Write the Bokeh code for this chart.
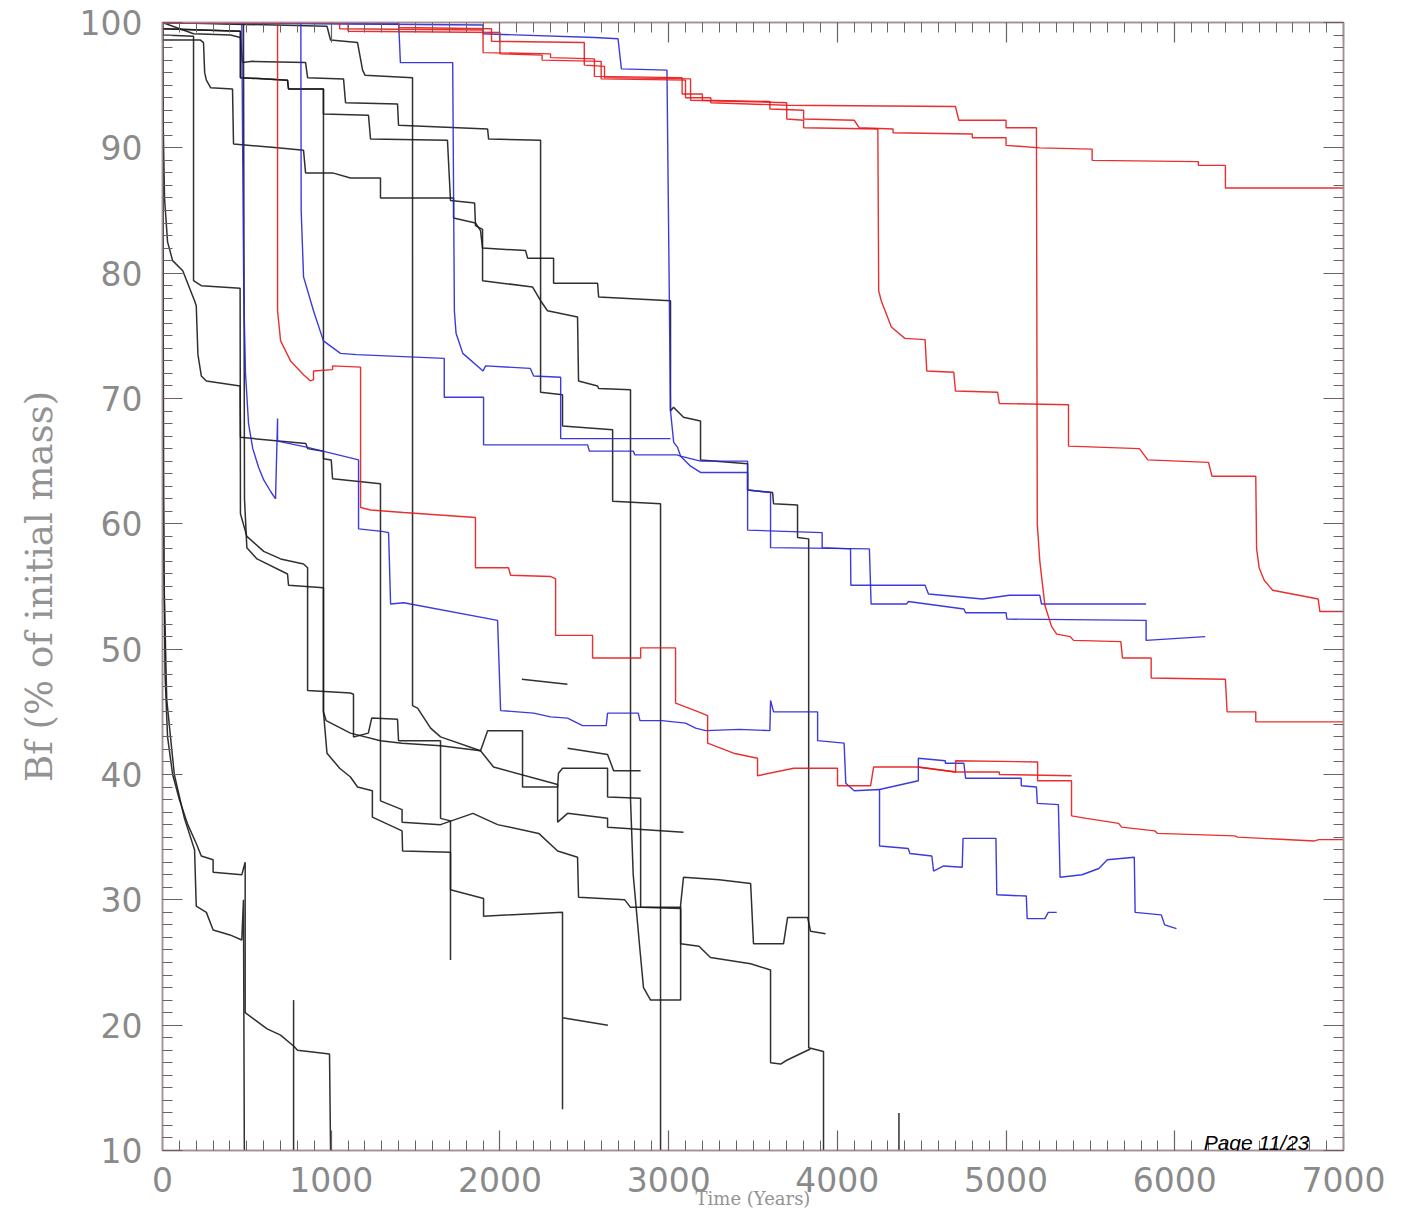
from bokeh.plotting import figure
from bokeh.models import FixedTicker, LinearAxis, Label, Range1d
from bokeh.embed import file_html
from bokeh.resources import INLINE

# ---------------- data (Time in years, Bf in % of initial mass) ----------------
x_ticks = [0, 1000, 2000, 3000, 4000, 5000, 6000, 7000]
y_ticks = [10, 20, 30, 40, 50, 60, 70, 80, 90, 100]

# black series
K1_x = [0,5,15,30,60,100,150,200,230,300,300,470,490,490,550,620,700,780,800,990,996]
K1_y = [100,62,48,43,40,38,36,34.5,33.5,33.2,32.2,32.0,33.0,21.0,20.4,19.7,19.2,18.3,18.0,17.7,10]
K2_x = [0,8,25,70,130,190,200,260,300,400,470,480,485]
K2_y = [100,56,46,40,36.5,34,29.5,29,27.6,27.2,26.8,30,10]
K3_x = [0,4,12,30,60,120,190,200,210,230,260,460,462,850,860,954,954,1000,1008,1292,1292,1420,1420,1648,1840,1986,2230,2342,2460,2466,2740,2774,3071]
K3_y = [100,92,86,82.5,81,80.2,77.8,77.4,73.5,71.8,71.4,71.0,66.9,66.4,66.0,65.8,65.2,65.1,63.6,63.2,37.9,37.2,36.2,36.0,36.9,36.0,35.3,33.9,33.4,30.2,30.0,29.4,29.4]
K4_x = [0,3,184,184,230,460,462,500,600,700,836,860,860,1114,1132,1132,1220,1240,1393,1399,1648,1648,1707,1707]
K4_y = [100,99,98.9,79.4,79.0,78.8,60.8,59.0,57.8,57.2,56.8,56.5,46.7,46.5,46.4,43.0,43.3,44.5,44.4,42.7,42.7,36.5,36.3,25.2]
K5_x = [0,462,462,741,747,954,954,970,1114,1292,1420,1648,1885,1962,2342,2342,2401,2638,2638,3088]
K5_y = [99.5,99.3,95.6,95.4,94.7,94.7,45.0,44.3,43.3,42.7,42.5,42.3,41.9,40.6,39.2,36.2,36.9,36.5,35.8,35.4]
K6_x = [0,975,996,1156,1186,1200,1482,1482,1512,1589,1648,1885,1927,2134,2134,2342,2347,2371,2638,2638,2834,2834,3071,3071,3180,3248,3486,3604,3604,3664,3700,3824,3840]
K6_y = [100,99.7,98.6,98.4,96.2,95.8,95.6,45.5,45.3,43.7,43.0,41.9,43.5,43.5,39.0,39.0,40.1,40.5,40.5,38.2,38.1,29.4,29.3,26.5,26.3,25.4,24.9,24.4,17.0,16.9,17.2,18.0,18.1]
K7_x = [0,480,486,500,560,741,747,954,954,975,1050,1114,1156,1244,1244,1420,1423,1707,1707,1903,1903,2371,2371,2371,2640]
K7_y = [100,99.9,62,58.1,57.2,56.0,55.1,54.9,45.0,41.7,40.5,39.8,39.0,38.7,36.6,35.5,33.9,33.8,30.8,30.1,28.7,29.0,13.3,20.6,20.0]
K8_x = [0,462,462,741,747,954,954,1221,1233,1689,1707,1850,1855,1897,1897,2193,2241,2282,2460,2466,2579,2585,2774,2774,2790,2830,2851,2893,3071,3071,3088,3300,3486,3503,3681,3705,3824,3841,3930]
K8_y = [99.5,99.3,95.6,95.4,94.7,94.7,92.7,92.6,90.7,90.6,85.8,85.6,83.8,83.5,79.4,78.9,77.8,77.0,76.5,71.4,71.0,70.8,70.7,38.0,32.0,26.0,23.0,22.0,22.0,29.6,31.8,31.6,31.3,26.5,26.5,28.6,28.6,27.5,27.3]
K9_x = [0,225,243,250,260,285,415,421,682,836,848,1008,1114,1292,1292,1725,1725,1855,1885,1897,2152,2164,2318,2318,2579,2585,3011,3011,3029,3088,3189,3189,3468,3468,3616,3622,3764,3764,3830,3830,3918,3918]
K9_y = [98.6,98.6,98.4,96.0,95.4,94.8,94.7,90.3,90.0,89.8,88.0,88.0,87.6,87.6,86.0,86.0,84.4,84.0,83.4,82.0,81.8,81.2,81.2,79.2,79.2,78.1,77.8,69.0,69.3,68.5,68.2,65.1,64.8,62.7,62.5,61.6,61.5,58.9,58.8,18.2,17.9,10]
K10_x = [0,184,403,462,474,534,848,860,1073,1085,1393,1399,1927,1933,2241,2241,2371,2371,2668,2668,2952,2952]
K10_y = [100,99.1,99.0,98.8,96.8,96.9,96.8,95.6,95.5,93.6,93.5,91.8,91.5,90.7,90.6,70.5,70.3,67.8,67.5,61.8,61.6,10]
K11_x = [2130,2400]
K11_y = [47.6,47.2]
K12_x = [2401,2638,2674,2834]
K12_y = [42.1,41.6,40.3,40.3]
K13_x = [4365,4365]
K13_y = [10,13]
K14_x = [777,777]
K14_y = [10,22]

# red series
R1_x = [0,1050,1050,1900,1900,2300,2300,2560,2560,3080,3080,3200,3200,3600,3600,3800,3800,4100,4130,4330,4330,4800,4800,5000,5000,5200,5510,5510,6140,6140,6300,6300,7000]
R1_y = [100,100,99.5,99.4,97.6,97.5,97.2,97.1,95.7,95.6,94.3,94.3,93.8,93.7,93.1,93.0,92.3,92.2,91.6,91.5,91.2,91.1,90.8,90.8,90.2,90.0,89.9,89.0,88.9,88.6,88.6,86.8,86.8]
R2_x = [0,1100,1100,2000,2000,2250,2250,2600,2600,3100,3100,3250,3250,3700,3700,3800,3800,4240,4245,4260,4320,4400,4520,4530,4690,4700,4950,4960,5370,5370,5790,5840,6200,6220,6480,6485,6500,6530,6580,6850,6860,7000]
R2_y = [100,100,99.3,99.2,97.5,97.4,97.0,96.9,95.5,95.4,94.0,94.0,93.6,93.4,92.3,92.2,91.6,91.5,78.6,77.8,75.7,74.8,74.7,72.2,72.1,70.6,70.5,69.6,69.5,66.2,66.0,65.1,64.9,63.8,63.8,58.0,56.5,55.5,54.7,54.0,53.0,53.0]
R3_x = [0,1400,1400,1950,1950,2500,2500,2620,2620,3130,3130,3700,3700,4700,4720,5000,5000,5180,5185,5200,5230,5270,5300,5380,5400,5680,5690,5860,5860,6300,6310,6480,6480,7000]
R3_y = [100,100,99.6,99.5,98.5,98.4,96.6,96.5,95.6,95.5,93.8,93.6,93.4,93.3,92.2,92.2,91.6,91.6,60.0,57.0,53.5,51.8,51.2,51.0,50.7,50.6,49.3,49.3,47.7,47.6,45.0,45.0,44.2,44.2]
R4_x = [0,682,682,700,759,836,877,895,895,1008,1008,1174,1174,1233,1429,1855,1855,2051,2063,2300,2330,2330,2549,2549,2834,2834,3041,3041,3177,3231,3231,3385,3527,3527,3741,4001,4001,4197,4215,4476,4701,4701,5187,5187,5388,5388,5477,5667,5685,5881,5898,6355,6373,6829,6853,7000]
R4_y = [100,100,77,74.6,73.0,71.9,71.4,71.5,72.2,72.3,72.6,72.5,61.3,61.1,60.9,60.5,56.5,56.5,55.9,55.8,55.6,51.1,51.1,49.3,49.3,50.1,50.1,45.7,45.0,44.7,42.5,41.7,41.3,39.9,40.5,40.5,39.1,39.1,40.6,40.6,40.2,41.1,41.0,39.5,39.5,36.7,36.5,36.1,35.8,35.5,35.3,35.1,35.0,34.7,34.8,34.8]
R5_x = [4476,4701,4960,4960,5388]
R5_y = [40.6,40.2,40.2,40.0,39.9]

# blue series
BL1_x = [0,1900,1900,2560,2700,2720,2990,3011,3030,3053,3071,3130,3189,3468,3468,3604,3604,4190,4200,4410,4420,4750,4760,5000,5005,5830,5830,6180]
BL1_y = [100,99.8,99.1,98.8,98.7,96.3,96.2,69.0,66.5,66.1,65.4,64.6,64.1,64.1,62.7,62.5,58.1,58.0,53.6,53.6,53.8,53.2,52.9,52.9,52.4,52.3,50.7,51.0]
BL2_x = [0,820,822,836,895,954,1055,1150,1670,1670,1903,1903,2520,2530,2790,2800,3050,3071,3130,3189,3468,3468,3910,3910,4078,4080,4520,4540,4860,5020,5200,5210,5830]
BL2_y = [100,100,85,79.7,77.0,74.6,73.6,73.5,73.2,70.1,70.1,66.3,66.3,65.8,65.8,65.5,65.5,65.4,65.2,65.0,65.0,59.5,59.3,58.1,58.0,55.1,55.1,54.4,54.0,54.3,54.3,53.6,53.6]
BL3_x = [0,470,475,482,492,510,535,570,600,640,670,682,682,860,1162,1162,1300,1340,1352,1430,1986,2004,2200,2300,2401,2490,2630,2638,2820,2830,2960,3100,3160,3220,3420,3600,3604,3622,3883,3883,4040,4050,4100,4250,4250,4420,4430,4560,4570,4630,4740,4745,4940,4945,5120,5125,5230,5250,5300]
BL3_y = [100,100,90,78,72,68,66,64.5,63.5,62.6,62.0,68.4,66.6,66.1,65.1,59.6,59.4,59.3,53.6,53.7,52.3,45.1,44.9,44.6,44.5,43.9,43.9,44.9,44.9,44.3,44.3,44.1,43.7,43.5,43.6,43.5,45.9,45.0,45.0,42.7,42.5,39.3,38.7,38.8,34.3,34.1,33.7,33.5,32.3,32.7,32.6,34.9,34.9,30.4,30.3,28.5,28.5,29.0,29.0]
BL4_x = [4250,4480,4480,4640,4640,4750,4760,5090,5090,5180,5185,5310,5320,5450,5550,5600,5760,5765,5920,5940,6010]
BL4_y = [38.8,39.5,41.3,41.1,40.9,40.9,39.7,39.7,39.1,39.0,37.7,37.6,31.8,32.0,32.5,33.2,33.4,29.0,28.8,28.0,27.7]
BL5_x = [0,1400,1410,1720,1730,1740,1780,1900,1915,2180,2200,2360,2360,3011]
BL5_y = [100,99.9,96.8,96.8,77.0,75.2,73.6,72.2,72.6,72.4,71.8,71.7,66.8,66.8]

black_series = [(K1_x, K1_y), (K2_x, K2_y), (K3_x, K3_y), (K4_x, K4_y), (K5_x, K5_y),
                (K6_x, K6_y), (K7_x, K7_y), (K8_x, K8_y), (K9_x, K9_y), (K10_x, K10_y),
                (K11_x, K11_y), (K12_x, K12_y), (K13_x, K13_y), (K14_x, K14_y)]
blue_series = [(BL1_x, BL1_y), (BL2_x, BL2_y), (BL3_x, BL3_y), (BL4_x, BL4_y), (BL5_x, BL5_y)]
red_series = [(R1_x, R1_y), (R2_x, R2_y), (R3_x, R3_y), (R4_x, R4_y), (R5_x, R5_y)]

# ---------------- styling ----------------
FRAME = "#a48f96"
TICK = "#6e5f66"
LABEL = "#8a8a8a"

p = figure(width=1403, height=1218, output_backend="svg", toolbar_location=None,
           x_range=Range1d(0, 7000), y_range=Range1d(10, 100),
           min_border_left=162, min_border_right=60, min_border_top=22, min_border_bottom=68)
p.background_fill_color = "white"
p.border_fill_color = "white"
p.outline_line_color = FRAME
p.outline_line_width = 1.5
p.xgrid.visible = False
p.ygrid.visible = False

xt = FixedTicker(ticks=x_ticks, minor_ticks=list(range(0, 7001, 100)))
yt = FixedTicker(ticks=y_ticks, minor_ticks=list(range(10, 101, 1)))


def style_axis(ax, labels=True, standoff=20):
    ax.axis_line_color = FRAME
    ax.axis_line_width = 1.5
    ax.major_tick_line_color = TICK
    ax.minor_tick_line_color = TICK
    ax.major_tick_in = 20
    ax.major_tick_out = 0
    ax.minor_tick_in = 10
    ax.minor_tick_out = 0
    ax.major_tick_line_width = 1.2
    ax.minor_tick_line_width = 1.0
    if labels:
        ax.major_label_text_font = "DejaVu Sans"
        ax.major_label_text_font_size = "33px"
        ax.major_label_text_color = LABEL
        ax.major_label_standoff = standoff
    else:
        ax.major_label_text_font_size = "0px"
        ax.major_label_text_color = None
        ax.major_label_standoff = 0


p.xaxis.ticker = xt
p.yaxis.ticker = yt
style_axis(p.xaxis[0], standoff=16)
style_axis(p.yaxis[0], standoff=20)
p.yaxis.axis_label = "Bf (% of initial mass)"
p.yaxis.axis_label_text_font = "DejaVu Serif"
p.yaxis.axis_label_text_font_size = "37px"
p.yaxis.axis_label_text_font_style = "normal"
p.yaxis.axis_label_text_color = "#939393"
p.yaxis.axis_label_standoff = 16

p.xaxis.axis_label = "Time (Years)"
p.xaxis.axis_label_text_font = "DejaVu Serif"
p.xaxis.axis_label_text_font_size = "18px"
p.xaxis.axis_label_text_font_style = "normal"
p.xaxis.axis_label_text_color = "#939393"
p.xaxis.axis_label_standoff = -7

top = LinearAxis(ticker=xt)
style_axis(top, labels=False)
p.add_layout(top, "above")
right = LinearAxis(ticker=yt)
style_axis(right, labels=False)
p.add_layout(right, "right")


def draw(series, color, width):
    for xs, ys in series:
        n = min(len(xs), len(ys))
        p.line(xs[:n], ys[:n], line_color=color, line_width=width, line_alpha=0.9)


draw(black_series, "#1a1a1a", 1.5)
draw(blue_series, "#2626d8", 1.4)
draw(red_series, "#e81818", 1.4)

p.add_layout(Label(x=6171, y=10.6, text="Page 11/23", text_font="Liberation Sans",
                   text_font_style="italic", text_font_size="21px", text_color="black",
                   text_baseline="alphabetic"))

open("out.html", "w").write(file_html(p, INLINE))
